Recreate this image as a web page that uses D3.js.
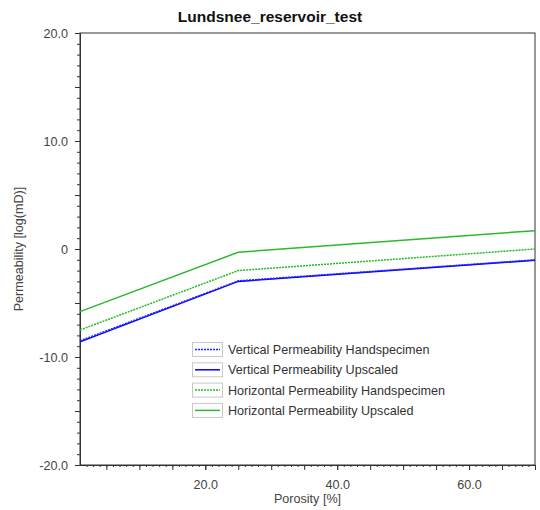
<!DOCTYPE html>
<html>
<head>
<meta charset="utf-8">
<script src="https://cdn.jsdelivr.net/npm/d3@7"></script>
<style>
  body { margin: 0; background: #fff; }
  text { font-family: "Liberation Sans", Arial, sans-serif; }
</style>
</head>
<body>
<div id="vis"></div>
<script>
    // data
    var porosity = [1, 25, 70];
    var vertHand = [-8.5, -2.95, -1.0];
    var vertUp = [-8.6, -3.0, -1.05];
    var horHand = [-7.5, -2.0, 0.0];
    var horUp = [-5.8, -0.3, 1.7];
    var seriesNames = ["Vertical Permeability Handspecimen", "Vertical Permeability Upscaled",
                       "Horizontal Permeability Handspecimen", "Horizontal Permeability Upscaled"];
    var xTickLabels = [20, 40, 60];
    var yTickLabels = [-20, -10, 0, 10, 20];

    var W = 540, H = 510,
        pLeft = 80, pRight = 535, pTop = 33, pBottom = 465;

    var svg = d3.select("#vis").append("svg").attr("width", W).attr("height", H);

    var x = d3.scaleLinear().domain([1, 70]).range([pLeft, pRight]),
        y = d3.scaleLinear().domain([-20, 20]).range([pBottom, pTop]);

    // plain hyphen minus, like the original
    var fmt1 = function (d) { return d === 0 ? "0" : d.toFixed(1); };

    // frame
    svg.append("rect").attr("x", pLeft).attr("y", pTop)
        .attr("width", pRight - pLeft).attr("height", pBottom - pTop)
        .attr("fill", "none").attr("stroke", "#333").attr("stroke-width", 1);

    //minor ticks first, then bigger ones
    function xAxisLayer(vals, size, fmt) {
        var ax = d3.axisBottom(x).tickValues(vals).tickSize(size).tickSizeOuter(0).tickPadding(10);
        ax.tickFormat(fmt || "");
        var g = svg.append("g").attr("transform", "translate(0," + pBottom + ")").call(ax);
        g.select(".domain").attr("stroke", "#333");
        g.selectAll(".tick line").attr("stroke", "#333");
        g.selectAll("text").attr("fill", "#444").style("font-size", "12.6px");
        return g;
    }
    function yAxisLayer(vals, size, fmt) {
        var ax = d3.axisLeft(y).tickValues(vals).tickSize(size).tickSizeOuter(0).tickPadding(7);
        ax.tickFormat(fmt || "");
        var g = svg.append("g").attr("transform", "translate(" + pLeft + ",0)").call(ax);
        g.select(".domain").attr("stroke", "#333");
        g.selectAll(".tick line").attr("stroke", "#333");
        g.selectAll("text").attr("fill", "#444").style("font-size", "12.6px");
        return g;
    }

    xAxisLayer(d3.range(2, 71, 1), 2);
    xAxisLayer(d3.range(5, 71, 5), 5);
    xAxisLayer(xTickLabels, 5, fmt1);

    yAxisLayer(d3.range(-20, 21, 1), 3);
    yAxisLayer(d3.range(-20, 21, 5), 5);
    yAxisLayer(yTickLabels, 5, fmt1);

    // titles
    svg.append("text").attr("x", W / 2).attr("y", 22).attr("text-anchor", "middle")
        .style("font-size", "15.5px").style("font-weight", "bold").attr("fill", "#111")
        .text("Lundsnee_reservoir_test");
    svg.append("text").attr("x", (pLeft + pRight) / 2).attr("y", 503).attr("text-anchor", "middle")
        .style("font-size", "12.6px").attr("fill", "#444").text("Porosity [%]");
    svg.append("text").attr("transform", "translate(23," + y(0) + ") rotate(-90)")
        .attr("text-anchor", "middle").style("font-size", "12.6px").attr("fill", "#444")
        .text("Permeability [log(mD)]");

    var series = [
        { name: seriesNames[0], vals: vertHand, color: "#2222ff", dash: "2,1" },
        { name: seriesNames[1], vals: vertUp, color: "#0000ff", dash: null },
        { name: seriesNames[2], vals: horHand, color: "#22bb22", dash: "2,1" },
        { name: seriesNames[3], vals: horUp, color: "#2db82d", dash: null }
    ];

    var line = d3.line().x(function (d, i) { return x(porosity[i]); }).y(function (d) { return y(d); });

    var drawOrder = [1, 0, 3, 2];
    drawOrder.forEach(function (k) {
        var s = series[k];
        svg.append("path").datum(s.vals).attr("d", line)
            .attr("fill", "none").attr("stroke", s.color).attr("stroke-width", 1.5)
            .attr("stroke-dasharray", s.dash);
    });

    // legend
    var leg = svg.append("g").attr("transform", "translate(192,342)");
    series.forEach(function (s, i) {
        var g = leg.append("g").attr("transform", "translate(0," + (i * 20.3) + ")");
        g.append("rect").attr("x", 0.5).attr("y", 0.5).attr("width", 30).attr("height", 14)
            .attr("fill", "#fff").attr("stroke", "#c8c8c8");
        g.append("line").attr("x1", 3).attr("x2", 28).attr("y1", 7.5).attr("y2", 7.5)
            .attr("stroke", s.color).attr("stroke-width", 1.5).attr("stroke-dasharray", s.dash);
        g.append("text").attr("x", 36).attr("y", 12).style("font-size", "12.6px")
            .attr("fill", "#333").text(s.name);
    });
</script>
</body>
</html>
